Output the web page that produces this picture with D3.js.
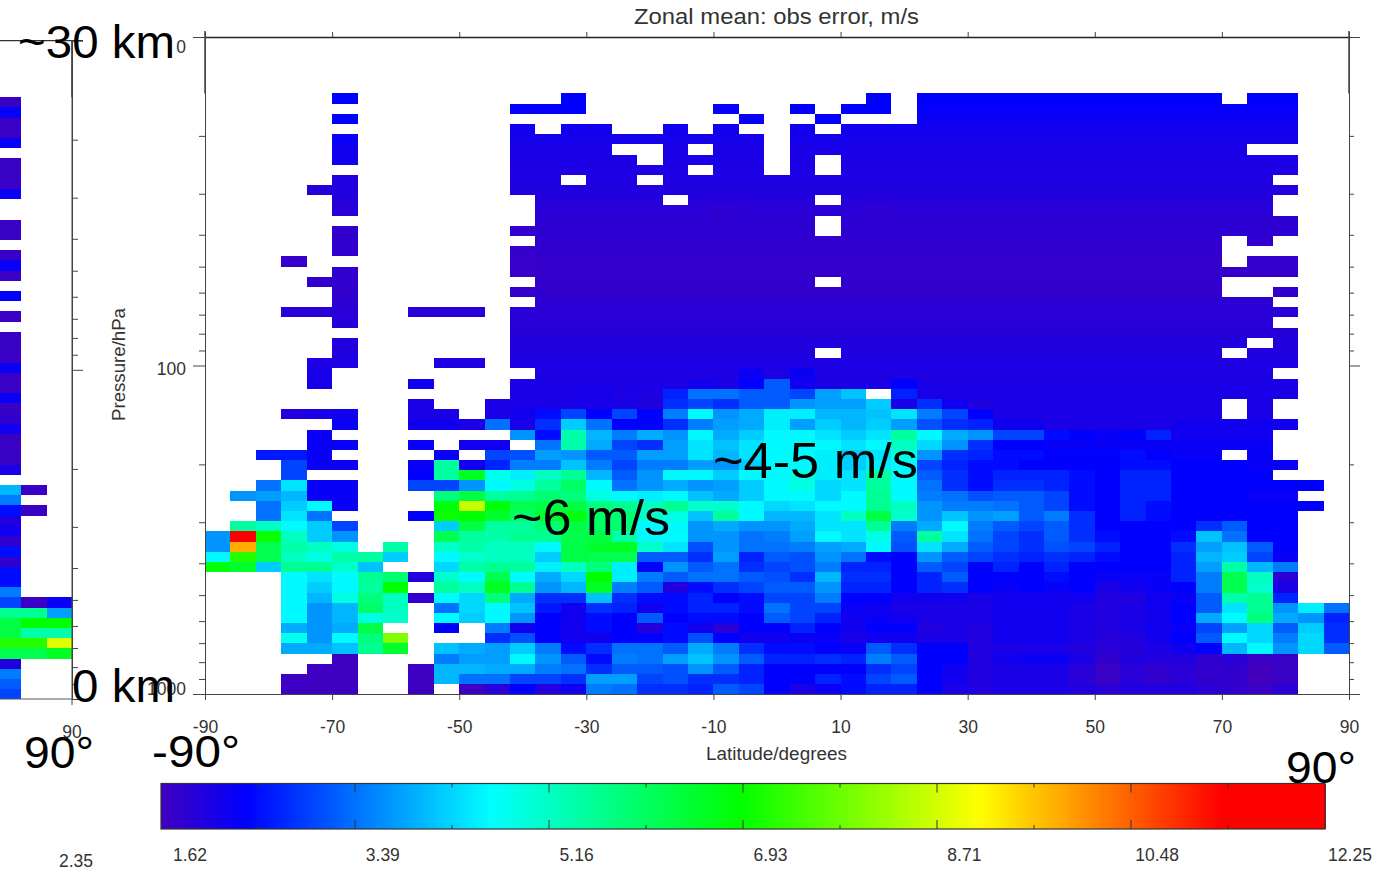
<!DOCTYPE html>
<html lang="en">
<head>
    <meta charset="UTF-8">
    <title>Zonal mean: obs error</title>
    <script src="https://cdn.jsdelivr.net/npm/d3@7"></script>
    <style>
        html, body { margin: 0; padding: 0; background: #fff; }
        svg { display: block; }
        text { font-family: "Liberation Sans", Arial, sans-serif; }
        .tick text { fill: #333; font-size: 17.5px; }
        .note { fill: #000; }
        .lbl { fill: #333; }
    </style>
</head>
<body>
<svg id="chart" width="1373" height="872"></svg>
<script>
    var _ = null;

    // row edges of the grid, hPa
    var pressureEdges = [14.85, 15.95, 17.13, 18.40, 19.76, 21.22, 22.79, 24.48, 26.29, 28.24,
        30.33, 32.57, 34.98, 37.57, 40.35, 43.34, 46.55, 49.99, 53.69, 57.66,
        61.93, 66.51, 71.43, 76.72, 82.40, 88.49, 95.04, 102.1, 109.6, 117.7,
        126.5, 135.8, 145.9, 156.7, 168.3, 180.7, 194.1, 208.5, 223.9, 240.5,
        258.3, 277.4, 297.9, 320.0, 343.6, 369.1, 396.4, 425.7, 457.2, 491.0,
        527.4, 566.4, 608.3, 653.3, 701.7, 753.6, 809.4, 869.3, 933.6, 1000];

    var latTicks = [-90, -70, -50, -30, -10, 10, 30, 50, 70, 90];
    var pressureMajor = [10, 100, 1000];
    var pressureMajorLabels = ["0", "100", "1000"];
    var pressureMinor = [20, 30, 40, 50, 60, 70, 80, 90, 200, 300, 400, 500, 600, 700, 800, 900];
    var legendValues = [1.62, 3.39, 5.16, 6.93, 8.71, 10.48, 12.25];
    var legendLabels = ["1.62", "3.39", "5.16", "6.93", "8.71", "10.48", "12.25"];

    // colour table of the bar, m/s
    var colorValues = [1.62, 2.4, 4.64, 6.9, 9.09, 11.3, 12.25];
    var colorNames = ["#4000c0", "#0000ff", "#00ffff", "#00ff00", "#ffff00", "#ff0000", "#ff0000"];

    // obs error m/s, one row per pressure band top to bottom, 4 degree columns from -90
    var obsError = [
        [_,_,_,_,_, 2.4,_,_,_,_, _,_,_,_,2.4, _,_,_,_,_, _,_,_,_,_, _,2.4,_,2.4,2.4, 2.4,2.4,2.4,2.4,2.4, 2.4,2.4,2.4,2.4,2.4, _,2.4,2.4,_,_],
        [_,_,_,_,_, _,_,_,_,_, _,_,2.35,2.35,2.4, _,_,_,_,_, 2.3,_,_,2.4,_, 2.4,2.4,_,2.35,2.35, 2.35,2.35,2.35,2.35,2.35, 2.35,2.35,2.35,2.35,2.35, 2.35,2.35,2.35,_,_],
        [_,_,_,_,_, 2.4,_,_,_,_, _,_,_,_,_, _,_,_,_,_, _,2.3,_,_,2.35, _,_,_,2.25,2.25, 2.25,2.25,2.25,2.25,2.25, 2.25,2.25,2.25,2.25,2.25, 2.25,2.25,2.25,_,_],
        [_,_,_,_,_, _,_,_,_,_, _,_,2.2,_,2.2, 2.2,_,_,2.2,_, 2.2,_,_,2.2,_, 2.2,2.2,2.2,2.2,2.2, 2.2,2.2,2.2,2.2,2.2, 2.2,2.2,2.2,2.2,2.2, 2.2,2.2,2.2,_,_],
        [_,_,_,_,_, 2.3,_,_,_,_, _,_,2.15,2.15,2.15, 2.15,2.15,2.15,2.15,2.15, 2.15,2.15,_,2.15,2.15, 2.15,2.15,2.15,2.15,2.15, 2.15,2.15,2.15,2.15,2.15, 2.15,2.15,2.15,2.15,2.15, 2.15,2.15,2.15,_,_],
        [_,_,_,_,_, 2.2,_,_,_,_, _,_,2.1,2.1,2.1, 2.1,_,_,2.1,_, 2.1,2.1,_,2.1,2.1, 2.1,2.1,2.1,2.1,2.1, 2.1,2.1,2.1,2.1,2.1, 2.1,2.1,2.1,2.1,2.1, 2.1,_,_,_,_],
        [_,_,_,_,_, 2.2,_,_,_,_, _,_,2.1,2.1,2.1, 2.1,2.1,_,2.1,2.1, 2.1,2.1,_,2.1,_, 2.1,2.1,2.1,2.1,2.1, 2.1,2.1,2.1,2.1,2.1, 2.1,2.1,2.1,2.1,2.1, 2.1,2.1,2.1,_,_],
        [_,_,_,_,_, _,_,_,_,_, _,_,2.05,2.05,2.05, 2.05,2.05,2.05,2.05,_, 2.05,2.05,_,2.05,_, 2.05,2.05,2.05,2.05,2.05, 2.05,2.05,2.05,2.05,2.05, 2.05,2.05,2.05,2.05,2.05, 2.05,2.05,2.05,_,_],
        [_,_,_,_,_, 2.0,_,_,_,_, _,_,2.05,2.05,_, 2.05,2.05,_,2.05,2.05, 2.05,2.05,2.05,2.05,2.05, 2.05,2.05,2.05,2.05,2.05, 2.05,2.05,2.05,2.05,2.05, 2.05,2.05,2.05,2.05,2.05, 2.05,2.05,_,_,_],
        [_,_,_,_,1.95, 2.0,_,_,_,_, _,_,2.0,2.0,2.0, 2.0,2.0,2.0,2.0,2.0, 2.0,2.0,2.0,2.0,2.0, 2.0,2.0,2.0,2.0,2.0, 2.0,2.0,2.0,2.0,2.0, 2.0,2.0,2.0,2.0,2.0, 2.0,2.0,2.0,_,_],
        [_,_,_,_,_, 1.95,_,_,_,_, _,_,_,1.95,1.95, 1.95,1.95,1.95,_,1.95, 1.95,1.95,1.95,1.95,_, 1.95,1.95,1.95,1.95,1.95, 1.95,1.95,1.95,1.95,1.95, 1.95,1.95,1.95,1.95,1.95, 1.95,1.95,_,_,_],
        [_,_,_,_,_, 1.9,_,_,_,_, _,_,_,1.9,1.9, 1.9,1.9,1.9,1.9,1.9, 1.82,1.9,1.9,1.9,1.9, 1.9,1.82,1.9,1.9,1.9, 1.9,1.9,1.9,1.9,1.9, 1.9,1.9,1.9,1.9,1.9, 1.9,1.9,_,_,_],
        [_,_,_,_,_, _,_,_,_,_, _,_,_,1.85,1.85, 1.85,1.85,1.85,1.85,1.85, 1.85,1.85,1.85,1.85,_, 1.85,1.85,1.85,1.85,1.85, 1.85,1.85,1.85,1.85,1.85, 1.85,1.85,1.85,1.85,1.85, 1.85,1.85,1.85,_,_],
        [_,_,_,_,_, 1.8,_,_,_,_, _,_,1.8,1.85,1.85, 1.85,1.85,1.85,1.85,1.85, 1.85,1.85,1.85,1.85,_, 1.85,1.85,1.85,1.85,1.85, 1.85,1.85,1.85,1.85,1.85, 1.85,1.85,1.85,1.85,1.85, 1.85,1.85,1.85,_,_],
        [_,_,_,_,_, 1.8,_,_,_,_, _,_,_,1.8,1.8, 1.8,1.8,1.8,1.8,1.8, 1.8,1.8,1.8,1.8,1.8, 1.8,1.8,1.8,1.8,1.8, 1.8,1.8,1.8,1.8,1.8, 1.8,1.8,1.8,1.8,1.8, _,1.8,_,_,_],
        [_,_,_,_,_, 1.8,_,_,_,_, _,_,1.75,1.8,1.8, 1.8,1.8,1.8,1.8,1.8, 1.8,1.8,1.8,1.8,1.8, 1.8,1.8,1.8,1.8,1.8, 1.8,1.8,1.8,1.8,1.8, 1.8,1.8,1.8,1.8,1.8, _,_,_,_,_],
        [_,_,_,1.75,_, _,_,_,_,_, _,_,1.72,1.75,1.75, 1.75,1.75,1.75,1.75,1.75, 1.75,1.75,1.75,1.75,1.75, 1.75,1.75,1.75,1.75,1.75, 1.75,1.75,1.75,1.75,1.75, 1.75,1.75,1.75,1.75,1.75, _,1.75,1.75,_,_],
        [_,_,_,_,_, 1.8,_,_,_,_, _,_,1.72,1.75,1.75, 1.75,1.75,1.75,1.75,1.75, 1.75,1.75,1.75,1.75,1.75, 1.75,1.75,1.75,1.75,1.75, 1.75,1.75,1.75,1.75,1.75, 1.75,1.75,1.75,1.75,1.75, 1.75,1.75,1.75,_,_],
        [_,_,_,_,1.8, 1.8,_,_,_,_, _,_,_,1.8,1.8, 1.8,1.8,1.8,1.8,1.8, 1.8,1.8,1.8,1.8,_, 1.8,1.8,1.8,1.8,1.8, 1.8,1.8,1.8,1.8,1.8, 1.8,1.8,1.8,1.8,1.8, _,_,_,_,_],
        [_,_,_,_,_, 1.8,_,_,_,_, _,_,1.75,1.8,1.8, 1.8,1.8,1.8,1.8,1.8, 1.8,1.8,1.8,1.8,1.8, 1.8,1.8,1.8,1.8,1.8, 1.8,1.8,1.8,1.8,1.8, 1.8,1.8,1.8,1.8,1.8, _,_,1.8,_,_],
        [_,_,_,_,_, 1.85,_,_,_,_, _,_,_,1.85,1.85, 1.85,1.85,1.85,1.85,1.85, 1.85,1.85,1.85,1.85,1.85, 1.85,1.85,1.85,1.85,1.85, 1.85,1.85,1.85,1.85,1.85, 1.85,1.85,1.85,1.85,1.85, 1.85,1.85,_,_,_],
        [_,_,_,1.9,1.9, 1.9,_,_,1.9,1.9, 1.9,_,1.9,1.9,1.9, 1.9,1.9,1.9,1.9,1.9, 1.9,1.9,1.9,1.9,1.9, 1.9,1.9,1.9,1.9,1.9, 1.9,1.9,1.9,1.9,1.9, 1.9,1.9,1.9,1.9,1.9, 1.9,1.9,1.9,_,_],
        [_,_,_,_,_, 1.95,_,_,_,_, _,_,1.9,1.9,1.9, 1.9,1.9,1.9,1.9,1.9, 1.9,1.9,1.9,1.9,1.9, 1.9,1.9,1.9,1.9,1.9, 1.9,1.9,1.9,1.9,1.9, 1.9,1.9,1.9,1.9,1.9, 1.9,1.9,_,_,_],
        [_,_,_,_,_, _,_,_,_,_, _,_,1.95,1.95,1.95, 1.95,1.95,1.95,1.95,1.95, 1.95,1.95,1.95,1.95,1.95, 1.95,1.95,1.95,1.95,1.95, 1.95,1.95,1.95,1.95,1.95, 1.95,1.95,1.95,1.95,1.95, 1.95,1.95,1.95,_,_],
        [_,_,_,_,_, 2.0,_,_,_,_, _,_,2.0,2.0,2.0, 2.0,2.0,2.0,2.0,2.0, 2.0,2.0,2.0,2.0,2.0, 2.0,2.0,2.0,2.0,2.0, 2.0,2.0,2.0,2.0,2.0, 2.0,2.0,2.0,2.0,2.0, 2.0,_,2.0,_,_],
        [_,_,_,_,_, 2.0,_,_,_,_, _,_,2.0,2.0,2.0, 2.0,2.0,2.0,2.0,2.0, 2.0,2.0,2.0,2.0,_, 2.0,2.0,2.0,2.0,2.0, 2.0,2.0,2.0,2.0,2.0, 2.0,2.0,2.0,2.0,2.0, _,2.0,2.0,_,_],
        [_,_,_,_,2.05, 2.05,_,_,_,2.05, 2.05,_,2.05,2.05,2.05, 2.05,2.05,2.05,2.05,2.05, 2.05,2.05,2.05,2.05,2.05, 2.05,2.05,2.05,2.05,2.05, 2.05,2.05,2.05,2.05,2.05, 2.05,2.05,2.05,2.05,2.05, 2.05,2.05,2.05,_,_],
        [_,_,_,_,2.1, _,_,_,_,_, _,_,_,2.05,2.05, 2.05,2.05,2.05,2.05,2.05, 2.05,2.25,2.05,2.25,2.05, 2.05,2.05,2.05,2.05,2.05, 2.05,2.05,2.05,2.05,2.05, 2.05,2.05,2.05,2.05,2.05, 2.05,2.05,_,_,_],
        [_,_,_,_,2.15, _,_,_,2.2,_, _,_,2.1,2.1,2.1, 2.1,2.1,2.1,2.05,2.2, 2.1,2.4,3.2,2.2,2.1, 2.1,2.1,2.4,2.1,2.1, 2.1,2.1,2.1,2.1,2.1, 2.1,2.1,2.1,2.1,2.1, 2.1,2.1,2.1,_,_],
        [_,_,_,_,_, _,_,_,_,_, _,_,2.1,2.1,2.1, 2.15,2.05,2.05,2.7,3.4, 3.4,3.2,3.2,3.0,3.8, 4.1,_,2.7,2.1,2.1, 2.1,2.1,2.1,2.1,2.1, 2.1,2.1,2.1,2.1,2.1, 2.1,2.1,2.1,_,_],
        [_,_,_,_,_, _,_,_,2.1,_, _,2.1,2.1,2.1,2.1, 2.1,2.1,2.0,2.8,3.0, 2.8,3.2,3.2,3.7,3.8, 3.8,4.2,2.1,2.8,2.2, 2.0,2.1,2.1,2.1,2.1, 2.1,2.1,2.1,2.1,2.1, _,2.1,_,_,_],
        [_,_,_,2.0,2.1, 2.2,_,_,2.1,2.1, _,2.1,2.2,2.5,3.0, 2.4,3.0,2.4,3.5,4.6, 3.7,3.9,4.5,4.5,4.0, 4.0,4.1,4.4,3.5,3.0, 2.4,2.1,2.1,2.1,2.1, 2.1,2.1,2.1,2.1,2.1, _,2.1,_,_,_],
        [_,_,_,_,_, 2.3,_,_,2.2,2.2, 2.1,3.4,2.1,2.8,4.2, 3.4,2.4,2.4,2.8,3.5, 3.8,3.9,4.5,3.8,4.2, 4.0,4.2,3.8,3.1,2.8, 2.7,2.2,2.2,2.1,2.1, 2.1,2.1,2.1,2.2,2.2, 2.2,2.2,2.2,_,_],
        [_,_,_,_,2.3, _,_,_,_,_, _,_,3.7,2.5,5.4, 4.0,3.5,3.9,3.7,4.6, 3.9,4.2,4.6,4.6,4.4, 4.2,4.4,5.5,4.6,3.9, 3.7,3.0,3.0,2.5,2.4, 2.3,2.4,2.7,2.2,2.2, 2.2,2.2,_,_,_],
        [_,_,_,_,2.3, 2.3,_,_,2.3,_, 2.2,2.2,_,3.4,5.4, 3.9,3.0,2.8,3.8,4.4, 4.1,4.4,4.6,4.6,4.6, 4.4,4.6,5.2,4.3,3.7, 2.8,2.4,2.4,2.3,2.3, 2.3,2.3,2.3,2.3,2.3, 2.3,2.3,_,_,_],
        [_,_,2.6,2.6,2.3, _,_,_,_,2.3, _,3.0,3.1,3.8,3.7, 3.2,3.2,3.8,3.8,4.4, 4.0,4.4,4.6,4.6,4.5, 4.2,4.4,4.9,3.7,2.8, 2.7,2.5,2.5,2.4,2.4, 2.4,2.5,2.4,2.3,2.3, _,2.3,_,_,_],
        [_,_,_,3.0,2.3, 2.3,_,_,2.3,5.5, 2.2,2.7,3.5,3.5,4.1, 3.5,3.0,3.5,3.5,3.8, 3.7,4.2,4.6,4.6,4.5, 4.2,4.5,4.6,3.0,2.7, 2.5,2.5,2.4,2.4,2.4, 2.4,2.5,2.5,2.4,2.4, 2.4,2.3,2.3,_,_],
        [_,_,_,3.0,_, _,_,_,2.4,5.5, 6.6,4.8,4.5,5.2,5.6, 4.0,3.2,3.7,4.6,4.6, 4.2,4.6,4.6,4.9,4.5, 4.4,5.5,4.6,3.2,2.8, 2.5,2.7,2.7,2.7,2.5, 2.4,2.7,2.7,2.4,2.4, 2.4,2.4,_,_,_],
        [_,_,3.4,4.4,2.3, 2.3,_,_,3.0,3.0, 3.7,4.6,4.9,5.5,6.0, 4.6,3.4,3.7,3.9,3.7, 3.8,4.2,4.6,4.9,4.3, 4.4,5.5,4.6,3.4,2.8, 2.5,2.8,2.8,2.7,2.5, 2.4,2.7,2.7,2.4,2.4, 2.4,2.4,2.4,2.4,_],
        [_,3.7,3.8,4.0,2.3, 2.3,_,_,_,5.8, 6.3,5.5,5.6,5.9,5.8, 4.9,4.6,4.5,4.6,4.1, 3.9,4.2,4.6,4.6,4.3, 4.6,5.6,4.6,3.5,3.4, 3.1,3.2,3.2,3.0,2.5, 2.4,2.7,2.7,2.4,2.4, 2.4,2.3,2.3,_,_],
        [_,_,3.4,4.2,4.6, 2.3,_,_,_,6.8, 8.6,6.8,6.2,6.3,6.3, 5.8,5.6,5.2,5.6,5.1, 5.1,4.6,4.3,4.4,4.6, 4.6,5.6,5.2,3.7,3.5, 3.5,3.4,3.2,3.0,2.5, 2.4,2.7,2.5,2.4,2.4, 2.4,2.4,2.4,2.4,_],
        [_,_,3.4,4.4,3.4, _,_,_,2.4,7.0, 6.9,6.5,6.0,6.5,6.8, 6.0,5.9,5.1,4.9,4.1, 5.5,4.6,4.0,4.0,4.4, 5.2,6.3,5.1,3.7,4.1, 3.7,3.8,3.2,3.5,2.8, 2.4,2.7,2.5,2.4,2.4, 2.4,2.4,2.4,_,_],
        [_,5.5,5.2,4.6,4.2, 3.0,_,_,_,4.2, 6.3,5.5,5.5,5.9,6.3, 6.0,5.9,4.6,4.6,3.7, 3.9,3.7,3.7,3.9,4.4, 4.4,5.6,3.5,3.9,4.6, 3.5,3.2,3.0,3.2,2.8, 2.4,2.4,2.4,2.4,2.8, 3.2,2.4,2.4,_,_],
        [3.7,11.5,7.0,5.2,4.2, 3.7,_,_,_,6.2, 5.5,5.4,5.6,5.6,6.2, 6.3,5.4,4.6,4.6,3.7, 3.7,3.4,3.5,3.8,4.6, 4.4,4.9,3.2,5.5,4.4, 3.4,3.0,2.8,3.2,2.8, 2.5,2.4,2.4,2.5,4.1, 3.4,2.4,2.4,_,_],
        [3.7,9.8,6.2,5.4,5.2, 4.9,_,5.4,_,5.1, 5.4,5.2,5.2,4.6,6.3, 6.5,6.6,5.1,4.4,3.1, 3.7,3.4,3.4,3.5,3.8, 3.9,4.6,3.1,4.4,3.9, 3.2,3.0,2.8,3.1,3.0, 2.7,2.4,2.4,2.8,3.8, 4.1,3.2,2.4,_,_],
        [4.6,7.2,6.2,5.2,4.9, 5.4,5.5,4.2,_,4.6, 5.1,5.2,5.2,4.2,6.3, 6.2,6.2,3.2,3.2,2.8, 3.8,2.7,3.2,3.1,3.7, 3.4,2.5,2.4,3.7,3.2, 3.0,2.8,2.7,2.8,2.7, 2.5,2.4,2.4,2.7,4.0, 4.2,3.0,2.3,_,_],
        [6.8,6.5,4.2,5.6,5.6, 5.1,4.1,_,_,4.3, 5.4,5.6,5.5,4.5,5.2, 5.8,4.5,2.4,3.7,3.2, 3.4,2.8,3.0,3.1,3.5, 2.7,2.7,2.4,3.2,3.0, 2.4,2.7,2.4,2.7,2.4, 2.4,2.4,2.4,2.7,3.8, 5.4,4.0,3.5,_,_],
        [_,_,_,4.6,4.4, 4.6,5.6,5.9,2.0,5.1, 4.6,6.2,4.6,3.9,4.3, 6.9,4.5,3.5,3.2,3.4, 3.4,3.2,3.1,2.8,4.0, 2.8,2.8,2.4,2.7,3.2, 2.4,2.4,2.4,2.5,2.4, 2.3,2.3,2.3,2.7,3.5, 6.2,5.2,1.9,_,_],
        [_,_,_,4.6,4.2, 4.6,5.5,6.9,_,5.5, 5.2,6.6,5.6,3.7,4.0, 6.6,3.5,3.2,2.0,2.5, 2.8,3.0,3.2,3.2,3.7, 2.7,2.7,2.4,2.7,2.8, 2.4,2.3,2.4,2.3,2.4, 2.1,2.2,2.3,2.4,3.5, 6.2,5.1,2.1,_,_],
        [_,_,_,4.6,4.0, 4.9,5.8,5.2,1.8,4.6, 4.3,5.8,3.9,2.8,2.8, 4.1,2.8,2.5,2.5,2.7, 2.4,2.5,3.0,3.0,3.5, 2.4,2.4,2.2,2.2,2.2, 2.1,2.2,2.2,2.2,2.2, 2.0,2.0,2.2,2.3,3.2, 5.4,5.6,2.7,_,_],
        [_,_,_,4.6,3.7, 4.0,6.0,5.2,_,3.4, 4.3,4.6,4.1,2.6,2.2, 2.8,2.7,2.2,2.5,2.7, 2.7,2.5,3.4,3.0,3.0, 2.3,2.2,2.1,2.1,2.1, 2.1,2.2,2.2,2.2,2.1, 2.0,2.1,2.2,2.4,3.2, 4.4,5.6,3.7,4.5,3.4],
        [_,_,_,4.6,3.7, 4.0,4.9,5.1,_,4.6, 4.2,4.6,3.7,2.4,2.2, 2.5,2.4,3.2,2.4,2.5, 2.5,2.4,3.2,3.0,2.7, 2.2,2.3,2.2,2.1,2.1, 2.1,2.2,2.2,2.2,2.1, 2.0,2.1,2.2,2.4,3.9, 4.6,5.8,3.9,3.7,2.7],
        [_,_,_,3.9,3.7, 3.9,6.3,_,_,2.4, _,3.5,2.2,2.4,2.2, 2.5,2.4,1.95,2.5,2.2, 1.9,2.4,2.4,2.7,2.4, 2.2,2.4,2.4,2.0,2.1, 2.0,2.2,2.2,2.2,2.1, 2.0,2.1,2.2,2.3,3.0, 3.8,4.3,3.2,4.2,2.8],
        [_,_,_,4.8,3.7, 4.6,5.8,8.0,_,_, _,2.8,3.1,2.4,2.2, 2.2,2.4,2.4,2.5,3.1, 2.4,2.2,2.2,2.3,2.3, 2.1,2.2,2.2,2.1,2.1, 2.0,2.2,2.2,2.2,2.1, 1.95,2.0,2.2,2.4,3.2, 4.6,4.3,3.5,4.3,2.8],
        [_,_,_,3.9,3.9, 4.1,5.6,6.5,_,4.1, 3.9,3.8,4.2,3.5,2.5, 2.8,3.4,3.4,3.2,3.9, 3.5,2.8,2.5,2.5,2.4, 2.3,3.2,2.8,2.4,2.4, 2.0,2.1,2.1,2.1,2.0, 1.9,1.95,2.1,2.2,2.4, 4.0,4.6,3.7,4.3,3.2],
        [_,_,_,_,_, 1.65,_,_,_,3.5, 3.8,3.8,4.6,3.7,3.2, 2.5,3.5,3.4,3.8,4.1, 3.7,3.2,2.7,2.7,2.8, 2.7,3.5,3.2,2.4,2.4, 2.0,2.2,2.3,2.3,2.1, 1.8,2.0,2.0,2.0,1.8, 1.9,1.7,1.7,_,_],
        [_,_,_,_,1.65, 1.65,_,_,1.65,4.0, 4.0,3.9,3.9,3.5,3.4, 2.8,3.2,3.2,3.1,3.7, 3.2,2.7,2.4,2.4,2.4, 2.4,2.8,3.0,2.4,2.2, 2.0,2.1,2.1,2.1,1.9, 1.7,1.9,1.8,1.9,1.8, 1.8,1.6,1.7,_,_],
        [_,_,_,1.65,1.65, 1.65,_,_,1.65,4.0, 3.4,3.4,3.0,3.0,2.8, 3.8,3.8,3.0,3.1,2.8, 2.8,2.7,2.4,2.4,2.7, 2.5,3.0,3.2,2.4,2.2, 2.0,2.1,2.1,2.1,1.9, 1.7,1.9,1.8,1.9,1.8, 1.8,1.6,1.7,_,_],
        [_,_,_,1.65,1.65, 1.65,_,_,1.65,_, 1.65,1.9,2.4,2.0,2.2, 3.5,3.4,2.8,2.8,2.7, 3.2,3.0,2.4,2.1,2.3, 2.5,2.7,2.7,2.4,2.1, 2.0,2.1,2.1,2.1,2.0, 1.9,2.0,2.0,2.0,1.9, 1.8,1.7,1.9,_,_]
    ];

    // right hand columns of the panel cut off at the left edge, bands as above
    var cutLat = [78, 82, 86];
    var cutError = [
        [1.7,2.3,1.7,1.7,2.3,_,1.7,1.7,1.7,2.3, _,_,1.7,1.7,_,1.7,2.3,1.7,_,2.4, _,1.7,_,1.7,1.7,1.7,2.3,1.7,1.7,2.3, 1.7,1.8,2.2,1.7,1.7,1.7,2.1,_,4.0,3.5, 2.5,2.0,2.2,1.8,2.5,1.8,2.5,2.5,3.5,3.0, 5.6,6.3,6.3,7.2,6.2,2.0,3.5,3.2,3.0],
        [_,_,_,_,_,_,_,_,_,_, _,_,_,_,_,_,_,_,_,_, _,_,_,_,_,_,_,_,_,_, _,_,_,_,_,_,_,_,1.7,_, 1.7,_,_,_,_,_,_,_,_,1.7, 5.6,6.9,5.4,7.2,6.2,_,_,_,_],
        [_,_,_,_,_,_,_,_,_,_, _,_,_,_,_,_,_,_,_,_, _,_,_,_,_,_,_,_,_,_, _,_,_,_,_,_,_,_,_,_, _,_,_,_,_,_,_,_,_,2.3, 3.8,6.9,5.4,8.8,6.6,_,_,_,_]
    ];

    var svg = d3.select("#chart");

    var color = d3.scaleLinear().domain(colorValues).range(colorNames).interpolate(d3.interpolateRgb);

    var x = d3.scaleLinear().domain([-90, 90]).range([205, 1349]);
    var y = d3.scaleLog().domain([10, 1000]).range([37, 694]);
    var cutX = d3.scaleLinear().domain([78, 90]).range([-4.3, 72]);
    var cutY = d3.scaleLog().domain([10, 1000]).range([40.6, 699]);
    var legendX = d3.scaleLinear().domain([1.62, 12.25]).range([161, 1325]);

    // flatten the grid to cells
    var cells = [];
    obsError.forEach(function (row, r) {
        row.forEach(function (v, c) {
            if (v !== null) cells.push({lat: -90 + c * 4, r: r, v: v});
        });
    });

    svg.append("g").selectAll("rect").data(cells).enter().append("rect")
        .attr("x", function (d) { return x(d.lat); })
        .attr("y", function (d) { return y(pressureEdges[d.r]); })
        .attr("width", function (d) { return x(d.lat + 4) - x(d.lat); })
        .attr("height", function (d) { return y(pressureEdges[d.r + 1]) - y(pressureEdges[d.r]); })
        .attr("fill", function (d) { return color(d.v); })
        .attr("shape-rendering", "crispEdges");

    var cutCells = [];
    cutError.forEach(function (col, c) {
        col.forEach(function (v, r) {
            if (v !== null) cutCells.push({lat: cutLat[c], r: r, v: v});
        });
    });

    svg.append("g").selectAll("rect").data(cutCells).enter().append("rect")
        .attr("x", function (d) { return cutX(d.lat); })
        .attr("y", function (d) { return cutY(pressureEdges[d.r]); })
        .attr("width", function (d) { return cutX(d.lat + 4) - cutX(d.lat); })
        .attr("height", function (d) { return cutY(pressureEdges[d.r + 1]) - cutY(pressureEdges[d.r]); })
        .attr("fill", function (d) { return color(d.v); })
        .attr("shape-rendering", "crispEdges");

    function styleAxis(g) {
        g.selectAll("line").attr("stroke", "#444");
        g.select(".domain").attr("stroke", "#444");
    }

    function plainAxis(g, axis, tx, ty, hideDomain) {
        var a = g.append("g").attr("transform", "translate(" + tx + "," + ty + ")").call(axis).call(styleAxis);
        if (hideDomain) a.select(".domain").remove();
        a.selectAll("text").attr("font-family", null);
        return a;
    }

    var axes = svg.append("g");

    // main panel frame
    plainAxis(axes, d3.axisBottom(x).tickValues(latTicks).tickSize(6).tickSizeOuter(0)
        .tickFormat(function (d) { return String(d); }), 0, 694)
        .selectAll("text").attr("y", 39).attr("dy", 0);
    plainAxis(axes, d3.axisTop(x).tickValues(latTicks).tickSize(5).tickSizeOuter(0).tickFormat(""), 0, 37)
        .select(".domain").attr("stroke", "#222").attr("stroke-width", 1.4);
    plainAxis(axes, d3.axisLeft(y).tickValues(pressureMinor).tickSize(6).tickSizeOuter(0).tickFormat(""), 205, 0);
    plainAxis(axes, d3.axisRight(y).tickValues(pressureMinor).tickSize(5).tickSizeOuter(0).tickFormat(""), 1349, 0);
    var majorLeft = plainAxis(axes, d3.axisLeft(y).tickValues(pressureMajor).tickSize(12).tickSizeOuter(0)
        .tickFormat(function (d, i) { return pressureMajorLabels[i]; }), 205, 0, true);
    majorLeft.selectAll("text").attr("x", -19).attr("dy", function (d, i) { return [15, 9, 0][i]; });
    plainAxis(axes, d3.axisRight(y).tickValues(pressureMajor).tickSize(11).tickSizeOuter(0).tickFormat(""), 1349, 0, true);

    // heavier stubs where the side axes run above the data
    axes.append("line").attr("x1", x(-90)).attr("x2", x(-90)).attr("y1", 31).attr("y2", y(pressureEdges[0]))
        .attr("stroke", "#444").attr("stroke-width", 1.5);
    axes.append("line").attr("x1", x(90)).attr("x2", x(90)).attr("y1", 31).attr("y2", y(pressureEdges[0]))
        .attr("stroke", "#444").attr("stroke-width", 1.5);

    // panel cut off on the left
    plainAxis(axes, d3.axisRight(cutY).tickValues(pressureMinor).tickSize(6).tickSizeOuter(0).tickFormat(""), 72, 0);
    plainAxis(axes, d3.axisRight(cutY).tickValues(pressureMajor).tickSize(11).tickSizeOuter(0).tickFormat(""), 72, 0, true);
    axes.append("line").attr("x1", 0).attr("x2", 83).attr("y1", cutY(10)).attr("y2", cutY(10)).attr("stroke", "#333").attr("stroke-width", 1.2);
    axes.append("line").attr("x1", 0).attr("x2", 72).attr("y1", cutY(1000)).attr("y2", cutY(1000)).attr("stroke", "#555");
    axes.append("line").attr("x1", 72).attr("x2", 72).attr("y1", cutY(10)).attr("y2", 705).attr("stroke", "#444");
    axes.append("line").attr("x1", 72).attr("x2", 72).attr("y1", cutY(10)).attr("y2", cutY(pressureEdges[0])).attr("stroke", "#444").attr("stroke-width", 1.5);

    function addText(cls, str, px, py, size, len, anchor) {
        var t = svg.append("text").attr("class", cls).attr("x", px).attr("y", py)
            .attr("font-size", size).attr("text-anchor", anchor || "start").text(str);
        if (len) t.attr("textLength", len).attr("lengthAdjust", "spacingAndGlyphs");
        return t;
    }

    addText("lbl", "Zonal mean: obs error, m/s", 634, 24, 22.5, 285);
    addText("lbl", "Latitude/degrees", 706, 760, 17.5, 141);
    addText("lbl", "Pressure/hPa", 0, 0, 17.5, 113)
        .attr("transform", "translate(125,421) rotate(-90)");
    addText("lbl", "90", 72, 738, 17.5, 0, "middle");
    addText("lbl", "2.35", 76, 867, 17.5, 0, "middle");

    // colour bar
    var bar = svg.append("g");
    var barSteps = 256;
    var stepW = (12.25 - 1.62) / barSteps;
    var steps = d3.range(barSteps).map(function (i) { return 1.62 + i * stepW; });
    bar.selectAll("rect").data(steps).enter().append("rect")
        .attr("x", function (d) { return legendX(d); })
        .attr("y", 783.5).attr("height", 45.5)
        .attr("width", function (d) { return legendX(d + stepW) - legendX(d) + 0.5; })
        .attr("fill", function (d) { return color(d + stepW / 2); })
        .attr("shape-rendering", "crispEdges");
    bar.append("rect").attr("x", legendX(1.62)).attr("y", 783.5)
        .attr("width", legendX(12.25) - legendX(1.62)).attr("height", 45.5)
        .attr("fill", "none").attr("stroke", "#333").attr("stroke-width", 1.2);

    var barTicks = d3.range(1, 12).map(function (i) { return 1.62 + i * (12.25 - 1.62) / 12; });
    [[783.5, 1], [829, -1]].forEach(function (edge) {
        bar.selectAll(null).data(barTicks).enter().append("line")
            .attr("x1", function (d) { return legendX(d); })
            .attr("x2", function (d) { return legendX(d); })
            .attr("y1", edge[0])
            .attr("y2", function (d, i) { return edge[0] + edge[1] * (i % 2 === 1 ? 9 : 4); })
            .attr("stroke", "#333");
    });

    // the labels sit to the right of their ticks, a little less so towards the end
    bar.selectAll("text").data(legendValues).enter().append("text")
        .attr("class", "lbl")
        .attr("x", function (d, i) { return legendX(d) + [29, 28, 28, 28, 27, 26, 25][i]; })
        .attr("y", 861)
        .attr("font-size", 17.5)
        .attr("text-anchor", "middle")
        .text(function (d, i) { return legendLabels[i]; });

    // annotations pasted over the figure
    addText("note", "~30 km", 18, 58, 47, 157);
    addText("note", "0 km", 72, 702, 47, 103);
    addText("note", "90\u00b0", 24, 768, 45, 70);
    addText("note", "-90\u00b0", 152, 767, 45, 88);
    addText("note", "90\u00b0", 1286, 783, 45, 70);
    addText("note", "~6 m/s", 512, 535, 50, 158);
    addText("note", "~4-5 m/s", 713, 478, 50, 205);
</script>
</body>
</html>
